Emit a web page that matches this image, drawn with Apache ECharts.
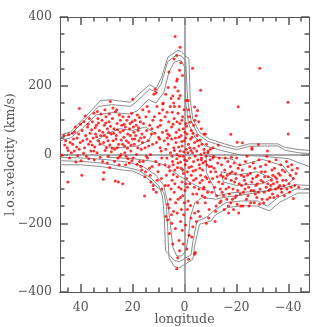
<!DOCTYPE html>
<html>
<head>
<meta charset="utf-8">
<script src="https://cdn.jsdelivr.net/npm/echarts@6/dist/echarts.min.js"></script>
<style>
  html, body { margin: 0; padding: 0; background: #fff; }
  #chart { width: 327px; height: 327px; }
</style>
</head>
<body>
<div id="chart"></div>
<script>
// tick positions on the longitude axis (axis runs 48 -> -48, tick sets are symmetric)
const xMajorTicks = [40, 20, 0, -20, -40];
const xMinorTicks = [45, 35, 30, 25, 15, 10, 5, -5, -10, -15, -25, -30, -35, -45];

// stars: [longitude, velocity]
const starsLeftBand = [
  [46.5,55],[45.8,40],[45.2,20],[44.7,58],[44.1,35],[43.6,5],[47.3,-2],[45,-80],[44.3,-10],[46.2,28],[43.2,62],[44.9,12],
  [42.8,45],[42.1,80],[41.6,22],[41.2,-3],[40.5,134],[40.8,60],[40.2,35],[42.5,10],[41.9,-22],[43.1,30],[40.1,88],[41.4,48],[39.6,-60],[42.3,66],[40.6,15],
  [39.5,70],[39.2,40],[38.8,95],[38.5,20],[38.1,55],[37.8,-5],[37.4,80],[37.0,30],[36.7,105],[36.4,62],[36.1,10],[39.9,-18],[38.3,112],[37.6,45],[36.9,-12],[38.9,4],[37.2,88],[36.3,38],
  [35.8,72],[35.5,95],[35.2,48],[34.9,120],[34.6,22],[34.3,60],[34.0,85],[33.7,5],[33.4,105],[33.1,40],[32.8,70],[32.5,-8],[32.2,118],[35.6,28],[34.8,-15],[33.9,52],[33.2,92],[32.6,30],[35.0,10],[34.4,78],[33.6,125],[32.3,55],[31.1,-52],[31.3,-72],
  [31.8,100],[31.5,65],[31.2,35],[30.9,85],[30.6,12],[30.3,110],[30.0,50],[29.7,75],[29.4,-5],[29.1,95],[28.8,28],[28.6,154],[28.3,60],[31.6,-20],[30.7,130],[30.1,20],[29.5,40],[29.0,118],[28.5,82],[31.0,55],[29.8,-25],[28.2,8],[30.4,92],[29.2,65],[28.9,-38],
  [27.8,105],[27.5,40],[27.2,75],[26.9,15],[26.6,125],[26.3,55],[26.0,90],[25.7,-10],[25.4,30],[25.1,115],[24.8,65],[24.5,0],[24.2,85],[27.6,135],[27.0,-20],[26.4,45],[25.9,20],[25.2,-30],[24.7,100],[27.3,62],[26.7,-77],[25.5,-80],[23.8,-85],[26.1,130],[24.4,42],[25.8,72],[27.9,18],[24.9,-5],
  [23.7,110],[23.4,50],[23.1,25],[22.8,80],[22.5,-5],[22.2,100],[21.9,60],[21.6,35],[21.3,-25],[21.0,90],[20.7,10],[20.4,120],[20.1,45],[20.0,161],[23.6,70],[23.0,5],[22.4,40],[21.8,-12],[21.2,75],[20.6,28],[20.2,95],[23.3,88],[22.0,18],[21.5,110],[20.9,55],[22.7,-30],[20.3,-18],[23.9,30],
  [19.7,80],[19.4,30],[19.1,100],[18.8,55],[18.5,0],[18.2,115],[17.9,70],[17.6,40],[17.3,-20],[17.0,95],[16.7,15],[16.4,60],[16.1,130],[19.8,-10],[19.2,45],[18.6,85],[18.0,20],[17.4,108],[16.8,-35],[16.2,35],[19.5,65],[18.3,-28],[17.7,78],[16.5,-45],[15.4,-121],[16.9,48],
  [15.8,90],[15.5,50],[15.2,20],[14.9,110],[14.6,70],[14.3,-10],[14.0,40],[13.7,125],[13.4,85],[13.1,0],[12.8,60],[12.5,-35],[12.2,100],[15.9,-20],[15.0,-50],[14.4,140],[13.8,25],[13.2,-60],[12.6,75],[12.0,-101],[12.1,-90],[14.7,-5],[13.5,-40],[12.3,30],[15.3,-65],[13.0,-80],
  [11.8,175],[11.3,190],[11.0,180],[10.6,140],[10.3,80],[10.0,50],[9.7,120],[9.4,20],[9.1,100],[8.8,-10],[8.5,65],[8.2,150],[11.6,110],[11.1,-20],[10.8,35],[10.2,-50],[9.8,-30],[9.3,85],[8.9,-70],[8.4,130],[11.4,62],[10.5,-75],[9.6,45],[8.7,-100],[10.9,-110],[9.0,10]
];

const starsSpike = [
  [3.6,343],[1.7,312],[3.0,288],[4.0,278],[1.4,267],[-3.1,251],[6.0,240],[2.8,220],[3.0,214],[6.3,195],[3.7,196],[4.5,170],[1.7,172],[2.2,163],[5.2,163],[8.4,147],[-0.6,157],[-1.4,157],[2.5,185],[0.8,230],[1.9,245],[-6.2,187],[7.2,175],[5.5,140],[2.0,140],[4.2,150],
  [6.7,123],[4.7,123],[-3.9,138],[-4.5,113],[-2.2,94],[7.5,110],[6.1,95],[5.0,80],[4.0,105],[3.2,65],[2.5,120],[1.8,90],[1.0,100],[0.5,75],[0.2,130],[-0.5,90],[-1.0,60],[-1.8,110],[-2.6,70],[-3.5,85],[-4.8,55],[-5.5,95],[-6.5,75],[-7.5,60],[7.0,70],[5.8,55],[3.9,140],[2.9,95],[1.3,55],[0.7,110],[-0.2,65],[-1.5,130],[-2.9,50],[-4.0,100],[6.5,60],[4.4,88],[2.1,72],[-0.8,82],[-3.3,62],[-8.1,60],[-5.0,128],
  [7.8,40],[7.2,15],[6.8,-10],[6.3,30],[5.9,-35],[5.4,5],[5.0,45],[4.6,-20],[4.1,20],[3.7,-45],[3.3,35],[2.9,0],[2.5,-25],[2.1,50],[1.7,10],[1.3,-40],[0.9,25],[0.5,-5],[0.1,40],[-0.3,-30],[-0.7,15],[-1.1,-50],[-1.5,30],[-1.9,-10],[-2.3,45],[-2.7,-35],[-3.1,5],[-3.5,-20],[-3.9,35],[-4.3,-45],[-4.7,10],[-5.1,-15],[-5.5,25],[-5.9,-40],[-6.3,0],[-6.7,30],[-7.1,-25],[-7.5,15],
  [7.5,-30],[6.6,48],[5.7,-48],[4.8,-5],[3.9,12],[3.0,-12],[2.3,22],[1.5,-22],[0.7,-45],[0.3,8],[-0.5,48],[-0.9,-18],[-1.7,-38],[-2.5,12],[-3.3,-48],[-4.1,-5],[-4.9,40],[-5.7,-30],[-6.5,-10],[1.1,38],[2.7,-38],[4.4,-30],[-2.0,20],[-1.3,5],[0.0,-15],[1.9,-5],[3.5,48],[-3.7,18],[-6.0,42],[-8.0,-20],[-9.0,5],[-8.5,30],[-9.5,-35],[-10.0,15],[-11,-10],
  [7.0,-60],[6.2,-90],[5.5,-130],[4.8,-75],[4.0,-110],[3.4,-140],[2.8,-65],[2.2,-95],[1.6,-125],[1.0,-80],[0.4,-55],[-0.2,-105],[-0.8,-70],[-1.4,-135],[-2.0,-85],[-2.6,-60],[-3.2,-115],[-3.8,-95],[-4.4,-70],[-5.0,-140],[-5.6,-100],[-6.2,-60],[-6.8,-120],[6.5,-145],[5.2,-100],[3.7,-85],[2.5,-130],[1.3,-100],[0.1,-140],[-1.1,-95],[-2.3,-148],[-3.5,-75],[-4.7,-115],[-5.9,-82],[7.4,-90],[0.7,-120],[-0.5,-85],[4.3,-58],[-7.5,-95],[-8.0,-140],[-8.7,-70],
  [6.5,-190],[5.8,-230],[7.2,-180],[4.9,-200],[4.2,-165],[3.5,-215],[2.8,-170],[2.1,-250],[1.5,-195],[0.9,-220],[0.3,-175],[-0.4,-205],[-1.1,-160],[-1.8,-235],[-2.5,-185],[-3.2,-210],[-3.9,-170],[-4.6,-195],[-5.3,-165],[1.9,-280],[2.6,-300],[-0.9,-275],[-1.6,-305],[3.0,-332],[-3.9,-290],[-4.2,-285],[5.0,-175],[0.5,-260],[-2.8,-240],[6.0,-155],[1.2,-160],[-6.0,-180],[-9.5,-160],[4.5,-260]
];

const starsRightBand = [
  [-6.5,-15],[-7.0,-45],[-7.6,5],[-8.1,-65],[-8.6,-30],[-9.1,10],[-9.6,-80],[-10.1,-50],[-6.8,-75],[-7.3,-100],[-8.3,-5],[-8.9,-110],[-9.9,-15],[-7.9,-125],[-9.3,-185],[-8.4,-200],
  [-10.4,-35],[-10.8,-70],[-11.2,-5],[-11.6,-95],[-12.0,-50],[-12.4,-120],[-12.8,-25],[-13.2,-80],[-13.6,-140],[-14.0,-60],[-10.6,-110],[-11.4,-40],[-12.2,-150],[-12.6,-65],[-13.4,-10],[-13.8,-100],[-11.0,20],[-13.0,28],[-12.0,-165],[-11.8,-195],
  [-14.3,-30],[-14.7,-85],[-15.1,-120],[-15.5,-45],[-15.9,-70],[-16.3,-130],[-16.7,-20],[-17.1,-95],[-17.5,-55],[-17.9,-140],[-14.5,-110],[-15.3,-160],[-16.0,-100],[-16.5,-60],[-17.3,-115],[-17.7,-35],[-14.9,-65],[-16.9,-150],[-15.7,-10],[-17.0,-170],[-18.0,-75],[-14.1,-135],
  [-18.3,-50],[-18.7,-100],[-19.1,-25],[-19.5,-125],[-19.9,-70],[-20.3,-145],[-20.7,-40],[-21.1,-85],[-21.5,-115],[-21.9,-60],[-18.5,-130],[-19.3,-80],[-20.1,-10],[-20.5,-105],[-21.3,-30],[-21.7,-150],[-18.9,-160],[-20.9,-170],[-19.7,-55],[-22.0,-90],[-20.0,-120],[-18.1,-8],
  [-22.3,-45],[-22.7,-110],[-23.1,-75],[-23.5,-20],[-23.9,-130],[-24.3,-60],[-24.7,-95],[-25.1,-35],[-25.5,-140],[-25.9,-80],[-22.5,-150],[-23.3,-100],[-24.1,-5],[-24.5,-120],[-25.3,-55],[-25.7,-105],[-22.9,-65],[-24.9,-150],[-23.7,-85],[-26.0,15],
  [-26.3,-70],[-26.7,-105],[-27.1,-40],[-27.5,-90],[-27.9,-125],[-28.3,-60],[-28.7,-15],[-29.1,-100],[-29.5,-75],[-29.9,-130],[-26.5,-25],[-27.3,-115],[-28.1,-85],[-28.9,-145],[-29.7,-50],[-26.9,-140],[-28.5,-110],[-27.7,-65],[-29.3,-35],
  [-30.3,-80],[-30.7,-110],[-31.1,-50],[-31.5,-95],[-31.9,-130],[-32.3,-65],[-32.7,-20],[-33.1,-100],[-33.5,-75],[-33.9,-115],[-30.5,-140],[-31.3,-30],[-32.1,-85],[-32.9,-125],[-33.7,-45],[-30.9,-65],[-32.5,-105],[-31.7,-5],[-33.3,-90],[-34.0,-60],[-32.0,10],
  [-34.3,-85],[-34.7,-40],[-35.1,-100],[-35.5,-70],[-35.9,-120],[-36.3,-55],[-36.7,-90],[-37.1,-30],[-37.5,-110],[-37.9,-75],[-34.5,-125],[-35.3,-15],[-36.1,-95],[-36.9,-60],[-37.7,-45],[-35.7,-80],[-37.3,-100],[-34.9,-65],
  [-38.3,-90],[-38.7,-50],[-39.1,-75],[-39.5,-100],[-39.9,-35],[-40.3,-85],[-40.7,-60],[-41.1,-95],[-41.5,-45],[-42.0,-70],[-38.5,-120],[-39.3,-20],[-40.5,-110],[-41.3,-30],[-42.5,-90],[-43.0,-55],[-43.5,-40],[-42.0,-128],[-44.0,-95]
];

const starsScattered = [
  [-29,251],[-20.7,139],[-39.9,152],[-40,60],[-17.9,59],[-20.3,36],[-22.3,34],[-28.5,29],[-26,20]
];

// contour levels (gray lines), outer to inner
const contourUpper1 = [[48,57],[44,65],[39,103],[32.4,157],[28.6,159],[21,152],[19.3,164],[13.5,203],[10.9,193],[9,222],[6.4,283],[2.6,303],[1.3,300],[-0.6,285],[-1.7,280],[-2.2,160],[-3.2,103],[-5.8,65],[-9.7,45],[-15.4,31],[-20,21],[-25,31],[-36,31],[-38.6,21],[-44.4,14],[-48,12]];
const contourUpper2 = [[48,50],[44,58],[40,88],[33,140],[28,145],[21,140],[19,150],[13.5,190],[11,182],[9,205],[6.5,270],[3,290],[1,286],[-0.5,270],[-1.2,160],[-2.5,100],[-5,60],[-9,38],[-15,24],[-20,14],[-25,24],[-36,25],[-39,12],[-44,5],[-48,3]];
const contourUpper3 = [[48,40],[44,48],[40,72],[34,115],[28,122],[21,118],[18,128],[14,160],[11,150],[8,180],[6,240],[4,268],[1.5,275],[0,255],[-0.5,150],[-1.5,90],[-4,50],[-8,25],[-15,10],[-22,-2],[-30,-5],[-40,-12],[-48,-35]];
const contourLower1 = [[48,-30],[40,-30],[32,-35],[24,-45],[20,-48],[15,-65],[11,-92],[8,-110],[7,-150],[6.5,-210],[6,-300],[4,-325],[2.3,-330],[0,-320],[-3.2,-305],[-3.9,-266],[-5.8,-203],[-10.3,-193],[-11.6,-178],[-16.7,-154],[-22.5,-149],[-28,-150],[-32.8,-164],[-36.7,-139],[-43.7,-112],[-48,-112]];
const contourLower2 = [[48,-18],[40,-20],[32,-25],[24,-35],[18,-45],[13,-68],[10,-90],[8.5,-120],[7.8,-180],[7.3,-280],[4,-308],[2,-312],[0,-303],[-2.5,-292],[-3.2,-255],[-4.8,-195],[-9,-180],[-11,-165],[-16,-140],[-22,-135],[-28,-135],[-32,-150],[-36,-125],[-43,-100],[-48,-102]];
const contourLower3 = [[48,-8],[40,-10],[30,-15],[22,-22],[16,-35],[11,-60],[8,-90],[6.5,-140],[5.5,-200],[4.5,-270],[3,-295],[1,-295],[-0.5,-280],[-1.5,-240],[-2.3,-180],[-4,-140],[-7,-125],[-12,-130],[-15,-125],[-22,-118],[-30,-108],[-38,-98],[-43,-88],[-48,-90]];
const contourInnerLeft = [[34,40],[30,60],[25,75],[20,70],[15,80],[12,65],[14,40],[18,25],[24,20],[30,22],[34,40]];
const contourInnerRight = [[-8.4,-4],[-18.7,-14],[-21,-33],[-30,-14],[-38,-33],[-42,-72],[-39,-91],[-31.5,-106],[-18.7,-111],[-12.2,-120],[-11,-91],[-8.4,-52],[-8.4,-4]];
const contourInnerRight2 = [[-14,-50],[-20,-60],[-28,-50],[-34,-70],[-30,-85],[-20,-90],[-15,-80],[-14,-50]];
const contourDiagonal = [[30,-8],[20,-12],[12,-20],[8,-30],[2,-62],[-4.5,-91],[-10,-108]];

const contours = [contourUpper1, contourUpper2, contourUpper3, contourLower1, contourLower2, contourLower3,
  contourInnerLeft, contourInnerRight, contourInnerRight2, contourDiagonal];

const FONT = 'DejaVu Serif';
const TEXT = '#555';
const FRAME = '#555';
const LINE = '#8c8c8c';
const minus = v => String(v).replace('-', '\u2212');

// tick-only frame axes for longitude (symmetric tick sets, so direction does not matter)
function xTickAxis(position, ticks, len) {
  return {
    type: 'value', position: position, min: -48, max: 48,
    axisLine: { show: true, onZero: false, lineStyle: { color: FRAME, width: 1 } },
    axisTick: { show: true, inside: true, length: len, customValues: ticks, lineStyle: { color: FRAME, width: 1.5 } },
    axisLabel: { show: false },
    splitLine: { show: false }
  };
}

function yAxisDef(position, withLabels) {
  const axis = {
    type: 'value', position: position, min: -400, max: 400, interval: 200,
    axisLine: { show: true, onZero: false, lineStyle: { color: FRAME, width: 1 } },
    axisTick: { show: true, inside: true, length: 8, lineStyle: { color: FRAME, width: 1.5 } },
    minorTick: { show: true, splitNumber: 4, length: 4.5, lineStyle: { color: FRAME, width: 1.5 } },
    axisLabel: withLabels ? { formatter: minus, color: TEXT, fontFamily: FONT, fontSize: 12.5, margin: 8 } : { show: false },
    splitLine: { show: false }
  };
  if (withLabels) {
    axis.name = 'l.o.s.velocity (km/s)';
    axis.nameLocation = 'middle';
    axis.nameGap = 43;
    axis.nameMoveOverlap = false;
    axis.nameTextStyle = { color: TEXT, fontFamily: FONT, fontSize: 12.5 };
  }
  return axis;
}

const chart = echarts.init(document.getElementById('chart'));

const series = contours.map(c => ({
  type: 'line', data: c, xAxisIndex: 0, yAxisIndex: 0,
  showSymbol: false, symbol: 'none', silent: true, z: 2,
  lineStyle: { color: LINE, width: 1 }
}));

// the zero lines
series.push({
  type: 'line', data: [], xAxisIndex: 0, yAxisIndex: 0, silent: true,
  markLine: {
    silent: true, symbol: 'none', label: { show: false },
    lineStyle: { color: LINE, width: 1.5, type: 'solid' },
    data: [{ xAxis: 0 }, { yAxis: 0 }]
  }
});

series.push({
  type: 'scatter', xAxisIndex: 0, yAxisIndex: 0, z: 5,
  data: [].concat(starsLeftBand, starsSpike, starsRightBand, starsScattered),
  symbol: 'circle', symbolSize: 3,
  itemStyle: { color: '#ff0000' }
});

chart.setOption({
  animation: false,
  grid: { left: 60, right: 18, top: 17, bottom: 35, outerBoundsMode: 'none' },
  xAxis: [
    {
      type: 'value', position: 'bottom', min: -48, max: 48, inverse: true,
      axisLine: { show: true, onZero: false, lineStyle: { color: FRAME, width: 1 } },
      axisTick: { show: false },
      axisLabel: { customValues: xMajorTicks, formatter: minus, color: TEXT, fontFamily: FONT, fontSize: 12.5, margin: 9 },
      splitLine: { show: false },
      name: 'longitude', nameLocation: 'middle', nameGap: 21, nameMoveOverlap: false,
      nameTextStyle: { color: TEXT, fontFamily: FONT, fontSize: 12.5 }
    },
    xTickAxis('bottom', xMajorTicks, 8),
    xTickAxis('bottom', xMinorTicks, 4.5),
    xTickAxis('top', xMajorTicks, 8),
    xTickAxis('top', xMinorTicks, 4.5)
  ],
  yAxis: [yAxisDef('left', true), yAxisDef('right', false)],
  series: series
});
</script>
</body>
</html>
